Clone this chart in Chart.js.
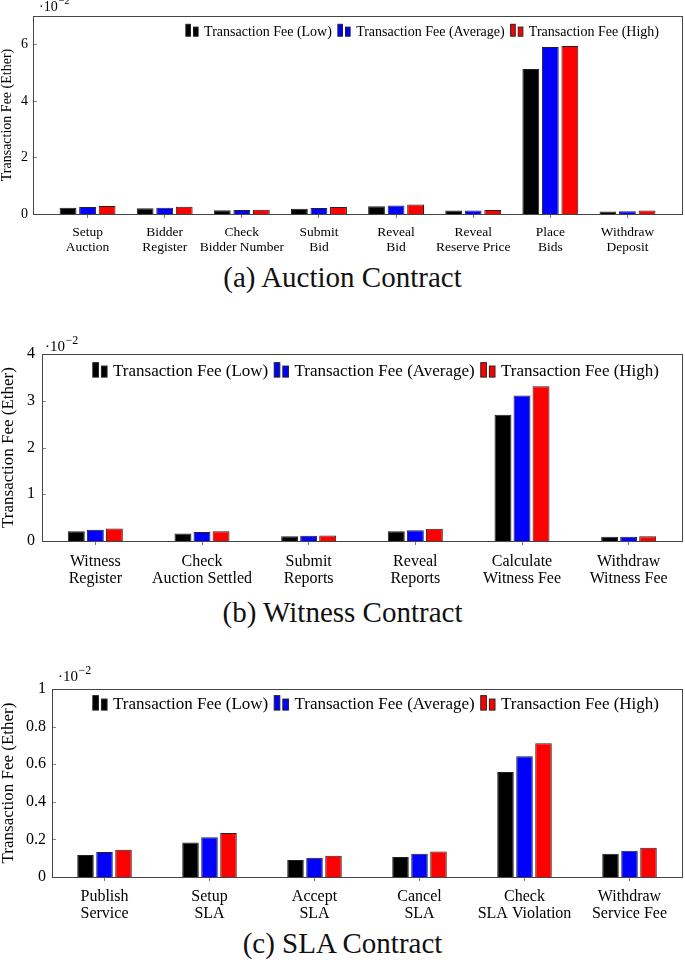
<!DOCTYPE html>
<html>
<head>
<meta charset="utf-8">
<script src="https://cdn.jsdelivr.net/npm/chart.js@4.4.0/dist/chart.umd.min.js"></script>
<style>
  body { margin: 0; background: #fff; width: 685px; height: 960px; position: relative; overflow: hidden; font-family: "Liberation Serif", serif; }
  .box { position: absolute; left: 0; width: 685px; }
  .cap { position: absolute; left: 0; width: 685px; text-align: center; font-size: 29px; line-height: 32px; color: #111; }
</style>
</head>
<body>
<div class="box" style="top:0;height:260px"><canvas id="auction"></canvas></div>
<div class="cap" style="top:261px">(a) Auction Contract</div>
<div class="box" style="top:330px;height:257px"><canvas id="witness"></canvas></div>
<div class="cap" style="top:596px">(b) Witness Contract</div>
<div class="box" style="top:665px;height:258px"><canvas id="sla"></canvas></div>
<div class="cap" style="top:927px">(c) SLA Contract</div>
<script>
// values in units of 10^-2 Ether
const seriesNames = ['Transaction Fee (Low)', 'Transaction Fee (Average)', 'Transaction Fee (High)']
const seriesColors = ['#000000', '#0000ff', '#ff0000']

const auctionLabels = [['Setup', 'Auction'], ['Bidder', 'Register'], ['Check', 'Bidder Number'], ['Submit', 'Bid'],
  ['Reveal', 'Bid'], ['Reveal', 'Reserve Price'], ['Place', 'Bids'], ['Withdraw', 'Deposit']]
const auctionLow = [0.22, 0.20, 0.13, 0.19, 0.27, 0.12, 5.13, 0.09]
const auctionAvg = [0.25, 0.22, 0.14, 0.21, 0.30, 0.12, 5.90, 0.10]
const auctionHigh = [0.28, 0.26, 0.15, 0.25, 0.34, 0.14, 5.94, 0.12]

const witnessLabels = [['Witness', 'Register'], ['Check', 'Auction Settled'], ['Submit', 'Reports'],
  ['Reveal', 'Reports'], ['Calculate', 'Witness Fee'], ['Withdraw', 'Witness Fee']]
const witnessLow = [0.21, 0.16, 0.10, 0.21, 2.70, 0.09]
const witnessAvg = [0.24, 0.19, 0.11, 0.23, 3.11, 0.09]
const witnessHigh = [0.27, 0.21, 0.12, 0.26, 3.31, 0.10]

const slaLabels = [['Publish', 'Service'], ['Setup', 'SLA'], ['Accept', 'SLA'], ['Cancel', 'SLA'],
  ['Check', 'SLA Violation'], ['Withdraw', 'Service Fee']]
const slaLow = [0.117, 0.184, 0.090, 0.106, 0.559, 0.124]
const slaAvg = [0.133, 0.211, 0.103, 0.124, 0.642, 0.140]
const slaHigh = [0.145, 0.234, 0.113, 0.135, 0.711, 0.156]

const FONT = '"Liberation Serif", "Times New Roman", serif'

// box around the plot + small inside y ticks
const framePlugin = {
  id: 'frame',
  afterDraw(chart, args, opts) {
    const a = chart.chartArea, ctx = chart.ctx
    const l = a.left - opts.inset, r = a.right + opts.inset
    ctx.save()
    ctx.strokeStyle = '#888'
    ctx.lineWidth = 1
    chart.scales.y.ticks.forEach(t => {
      const y = Math.round(chart.scales.y.getPixelForValue(t.value)) + 0.5
      ctx.beginPath(); ctx.moveTo(l, y); ctx.lineTo(l + 4, y); ctx.stroke()
    })
    ctx.strokeStyle = '#444'
    ctx.strokeRect(Math.round(l) + 0.5, Math.round(a.top) + 0.5, Math.round(r - l), Math.round(a.bottom - a.top))
    ctx.restore()
  }
}

// pgfplots-like legend with two little bars per entry
const boxLegend = {
  id: 'boxLegend',
  afterDraw(chart, args, opts) {
    const a = chart.chartArea, ctx = chart.ctx
    ctx.save()
    ctx.font = opts.size + 'px ' + FONT
    const bw = opts.size * 0.33, gap2 = 3, mark = bw * 2 + gap2
    const items = chart.data.datasets.map(ds => ({ text: ds.label, color: ds.backgroundColor, w: ctx.measureText(ds.label).width }))
    const total = items.reduce((s, it) => s + mark + 6 + it.w, 0) + 6 * (items.length - 1)
    let x = a.right + opts.inset - opts.right - total
    const cy = a.top + opts.dy
    const base = cy + opts.size * 0.3
    ctx.textBaseline = 'middle'
    items.forEach(it => {
      const h1 = opts.size * 0.85, h2 = opts.size * 0.65
      ctx.fillStyle = it.color
      ctx.strokeStyle = '#222'
      ctx.lineWidth = 1
      ctx.fillRect(x, base - h1, bw, h1); ctx.strokeRect(x, base - h1, bw, h1)
      ctx.fillRect(x + bw + gap2, base - h2, bw, h2); ctx.strokeRect(x + bw + gap2, base - h2, bw, h2)
      x += mark + 6
      ctx.fillStyle = '#000'
      ctx.fillText(it.text, x, cy)
      x += it.w + 6
    })
    ctx.restore()
  }
}

// the "·10^-2" multiplier above the y axis
const expPlugin = {
  id: 'expLabel',
  afterDraw(chart, args, opts) {
    const a = chart.chartArea, ctx = chart.ctx
    const x = a.left - opts.inset + opts.dx, y = a.top + opts.dy
    ctx.save()
    ctx.fillStyle = '#000'
    ctx.textBaseline = 'middle'
    ctx.font = opts.size + 'px ' + FONT
    ctx.fillText('·10', x, y)
    const w = ctx.measureText('·10').width
    ctx.font = Math.round(opts.size * 0.78) + 'px ' + FONT
    ctx.fillText('−2', x + w + 0.5, y - opts.size * 0.4)
    ctx.restore()
  }
}

function makeChart(id, labels, low, avg, high, cfg) {
  const vals = [low, avg, high]
  return new Chart(document.getElementById(id), {
    type: 'bar',
    data: {
      labels: labels,
      datasets: vals.map((d, i) => ({
        label: seriesNames[i],
        data: d,
        backgroundColor: seriesColors[i],
        borderColor: '#222',
        borderWidth: 1,
        categoryPercentage: cfg.cat,
        barPercentage: cfg.bar
      }))
    },
    options: {
      animation: false,
      responsive: true,
      maintainAspectRatio: false,
      layout: { padding: { top: cfg.top, right: cfg.right, left: 0, bottom: 0 } },
      plugins: {
        legend: { display: false },
        tooltip: { enabled: false },
        frame: { inset: cfg.inset },
        boxLegend: { size: cfg.legendSize, dy: cfg.legendDy, right: 23, inset: cfg.inset },
        expLabel: { size: cfg.expSize, dx: cfg.expDx, dy: cfg.expDy, inset: cfg.inset }
      },
      scales: {
        x: {
          grid: { display: true, offset: false, drawOnChartArea: false, drawTicks: true, tickLength: 4, color: '#777' },
          border: { display: false },
          ticks: { color: '#000', font: { family: FONT, size: cfg.xSize, lineHeight: cfg.xLine }, padding: cfg.xPad, maxRotation: 0, autoSkip: false },
          afterFit: s => { s.height = 46 }
        },
        y: {
          min: 0,
          max: cfg.max,
          ticks: {
            stepSize: cfg.step, includeBounds: false, color: '#000',
            font: { family: FONT, size: cfg.ySize }, padding: cfg.yPad,
            callback: v => String(+v.toFixed(1))
          },
          grid: { display: false, drawTicks: false },
          border: { display: false },
          title: { display: true, text: 'Transaction Fee (Ether)', color: '#000', font: { family: FONT, size: cfg.titleSize, lineHeight: 1 }, padding: 0 },
          afterFit: s => { s.width = cfg.yWidth; s.paddingTop = 0; s.paddingBottom = 0 }
        }
      }
    },
    plugins: [framePlugin, boxLegend, expPlugin]
  })
}

makeChart('auction', auctionLabels, auctionLow, auctionAvg, auctionHigh, {
  max: 7, step: 2, top: 16, right: 19, inset: 16, yWidth: 49, yPad: 21,
  cat: 0.76, bar: 0.86, xSize: 13.5, xLine: 1.1, xPad: 7.5, ySize: 14, titleSize: 14,
  legendSize: 14, legendDy: 16, expSize: 14, expDx: 6, expDy: -9
})
makeChart('witness', witnessLabels, witnessLow, witnessAvg, witnessHigh, {
  max: 4, step: 1, top: 24, right: 3, inset: 0, yWidth: 42, yPad: 7,
  cat: 0.535, bar: 0.89, xSize: 16, xLine: 1.05, xPad: 8.5, ySize: 16, titleSize: 17,
  legendSize: 17, legendDy: 18, expSize: 15, expDx: 3, expDy: -7
})
makeChart('sla', slaLabels, slaLow, slaAvg, slaHigh, {
  max: 1, step: 0.2, top: 24, right: 3, inset: 0, yWidth: 52, yPad: 6,
  cat: 0.543, bar: 0.87, xSize: 16, xLine: 1.05, xPad: 7.5, ySize: 16, titleSize: 17,
  legendSize: 17, legendDy: 16, expSize: 15, expDx: 6, expDy: -12
})
</script>
</body>
</html>
